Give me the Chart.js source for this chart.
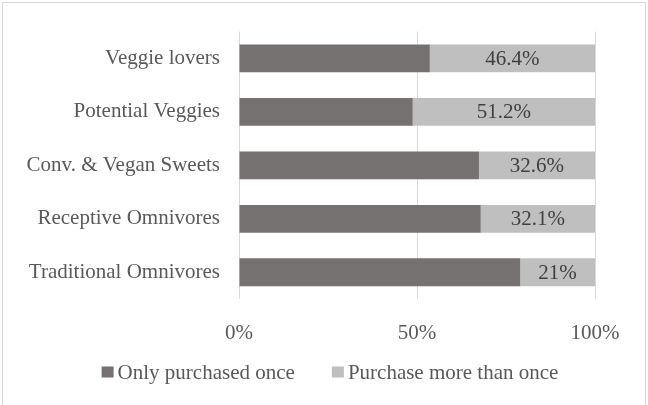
<!DOCTYPE html>
<html>
<head>
<meta charset="utf-8">
<script src="https://cdn.jsdelivr.net/npm/chart.js@4/dist/chart.umd.min.js"></script>
<style>
  html, body { margin: 0; padding: 0; background: #fff; }
  #wrap { position: relative; width: 648px; height: 405px; }
</style>
</head>
<body>
<div id="wrap"><canvas id="chart" width="648" height="405"></canvas></div>
<script>
const segments = ['Veggie lovers', 'Potential Veggies', 'Conv. & Vegan Sweets', 'Receptive Omnivores', 'Traditional Omnivores'];
const onceShare = [53.6, 48.8, 67.4, 67.9, 79];
const repeatShare = [46.4, 51.2, 32.6, 32.1, 21];
const repeatLabels = ['46.4%', '51.2%', '32.6%', '32.1%', '21%'];
const axisTicks = [0, 50, 100];

const serif = 'Liberation Serif';
const fontSize = 21;

// light frame round the whole chart
const frame = {
  id: 'frame',
  afterDraw(chart) {
    const ctx = chart.ctx;
    ctx.save();
    ctx.strokeStyle = '#d9d9d9';
    ctx.lineWidth = 1;
    ctx.strokeRect(2.5, 2.5, 643, 420);
    ctx.restore();
  }
};

// value labels in the middle of the "more than once" bars
const barLabels = {
  id: 'barLabels',
  afterDatasetsDraw(chart) {
    const ctx = chart.ctx;
    const meta = chart.getDatasetMeta(1);
    ctx.save();
    ctx.font = fontSize + 'px "' + serif + '"';
    ctx.fillStyle = '#404040';
    ctx.textAlign = 'center';
    ctx.textBaseline = 'middle';
    meta.data.forEach((bar, i) => {
      const p = bar.getProps(['x', 'y', 'base'], true);
      ctx.fillText(repeatLabels[i], (p.x + p.base) / 2, p.y + 1);
    });
    ctx.restore();
  }
};

// compact legend centred under the whole canvas: small square, tight gap to text
const bottomLegend = {
  id: 'bottomLegend',
  afterDraw(chart) {
    const ctx = chart.ctx;
    const sets = chart.data.datasets;
    const box = 12, gap = 4, spacing = 37, y = 372;
    ctx.save();
    ctx.font = fontSize + 'px "' + serif + '"';
    ctx.textBaseline = 'middle';
    ctx.textAlign = 'left';
    const widths = sets.map(ds => box + gap + ctx.measureText(ds.label).width);
    const total = widths.reduce((a, b) => a + b, 0) + spacing * (sets.length - 1);
    let x = 330 - total / 2;
    sets.forEach((ds, i) => {
      ctx.fillStyle = ds.backgroundColor;
      ctx.fillRect(x, y - 5.5, box, 11);
      ctx.fillStyle = '#595959';
      ctx.fillText(ds.label, x + box + gap, y + 1);
      x += widths[i] + spacing;
    });
    ctx.restore();
  }
};

new Chart(document.getElementById('chart'), {
  type: 'bar',
  data: {
    labels: segments,
    datasets: [
      { label: 'Only purchased once', data: onceShare, backgroundColor: '#767171' },
      { label: 'Purchase more than once', data: repeatShare, backgroundColor: '#bfbfbf' }
    ]
  },
  options: {
    indexAxis: 'y',
    responsive: false,
    animation: false,
    events: [],
    categoryPercentage: 1,
    barPercentage: 0.52,
    layout: { padding: { left: 0, right: 53, top: 31, bottom: 66 } },
    scales: {
      x: {
        stacked: true,
        min: 0,
        max: 100,
        afterBuildTicks(scale) { scale.ticks = axisTicks.map(v => ({ value: v })); },
        afterFit(scale) { scale.height = 40; },
        grid: { color: '#d9d9d9', drawTicks: false },
        border: { display: false },
        ticks: {
          padding: 22,
          color: '#595959',
          font: { family: serif, size: fontSize },
          callback: v => v + '%'
        }
      },
      y: {
        stacked: true,
        afterFit(scale) { scale.width = 239; },
        grid: { display: false, drawTicks: false },
        border: { display: false },
        ticks: {
          padding: 19,
          color: '#595959',
          font: { family: serif, size: fontSize }
        }
      }
    },
    plugins: {
      legend: { display: false },
      tooltip: { enabled: false }
    }
  },
  plugins: [barLabels, bottomLegend, frame]
});
</script>
</body>
</html>
